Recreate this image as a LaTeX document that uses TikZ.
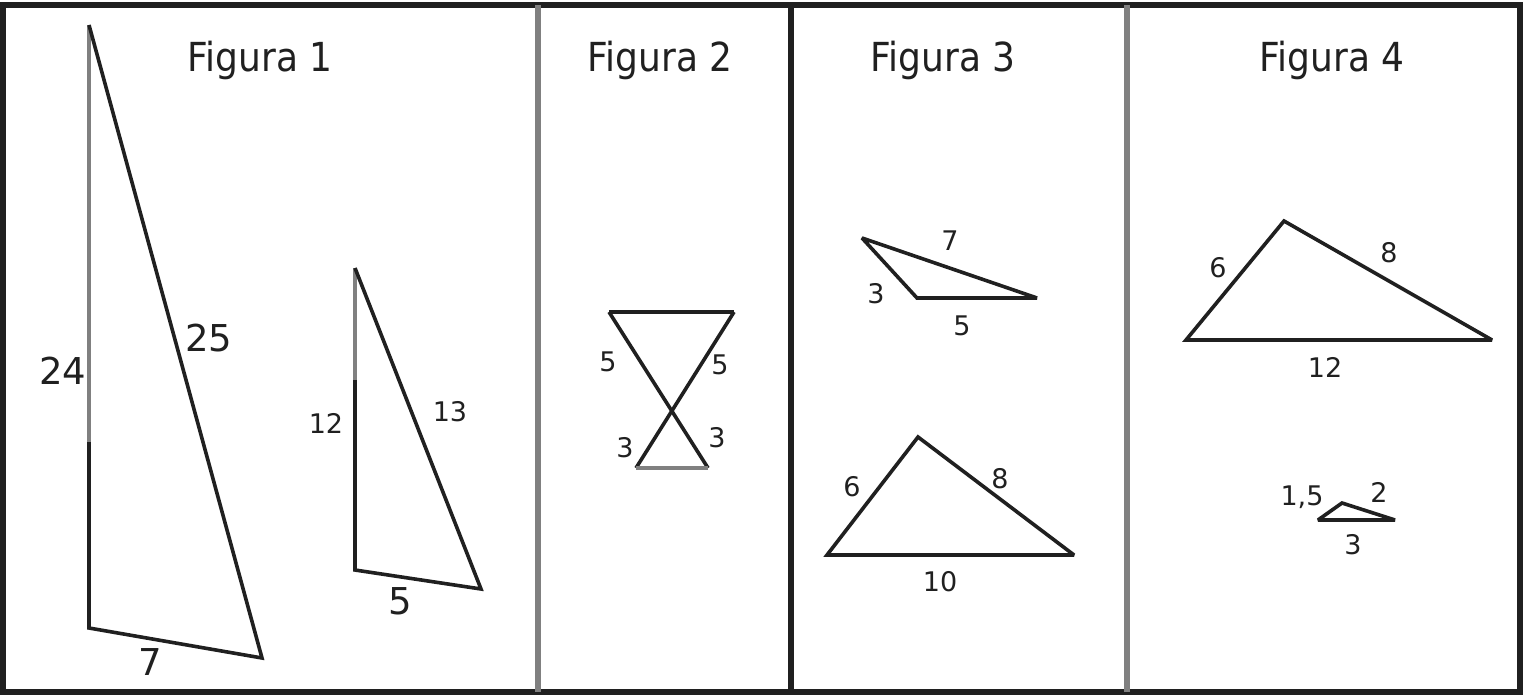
\documentclass[tikz,border=0pt]{standalone}
\usepackage{fontspec}
\setmainfont{DejaVu Sans}
\usepackage{graphicx}
\definecolor{ink}{HTML}{202020}
\definecolor{lgray}{HTML}{808080}
\begin{document}
\begin{tikzpicture}[x=1pt,y=-1pt,
  edge/.style={draw=ink,line width=3.6pt,line join=miter,miter limit=3},
  gedge/.style={draw=lgray,line width=3.6pt},
  title/.style={font=\fontsize{40}{40}\selectfont,text=ink,inner sep=0pt},
  biglab/.style={font=\fontsize{37}{37}\selectfont,text=ink,inner sep=0pt},
  lab/.style={font=\fontsize{27}{27}\selectfont,text=ink,inner sep=0pt}]
\useasboundingbox (0,0) rectangle (1523,695);
\fill[white] (0,0) rectangle (1523,695);
% frame and dividers
\draw[ink,line width=6pt] (3,5) rectangle (1520,692);
\draw[lgray,line width=6pt] (538,5) -- (538,692);
\draw[ink,line width=6pt] (791,5) -- (791,692);
\draw[lgray,line width=6pt] (1127,5) -- (1127,692);
% titles
\node[title] (t1) at (260,60) {\scalebox{0.9}[1]{Figura 1}};
\node[title] (t2) at (660,60) {\scalebox{0.9}[1]{Figura 2}};
\node[title] (t3) at (943,60) {\scalebox{0.9}[1]{Figura 3}};
\node[title] (t4) at (1332,60) {\scalebox{0.9}[1]{Figura 4}};
% Figura 1 big triangle
\coordinate (A1) at (89,25);
\coordinate (A1m) at (89,442);
\coordinate (B1) at (89,628);
\coordinate (C1) at (262,658);
\draw[gedge] (A1) -- (A1m);
\draw[edge] (A1m) -- (B1) -- (C1) -- (A1);
\node[biglab] (l24) at (63,371) {24};
\node[biglab] (l25) at (209,338) {25};
\node[biglab] (l7) at (150,662) {7};
% Figura 1 small triangle
\coordinate (A2) at (355,268);
\coordinate (A2m) at (355,380);
\coordinate (B2) at (355,570);
\coordinate (C2) at (481,589);
\draw[gedge] (A2) -- (A2m);
\draw[edge] (A2m) -- (B2) -- (C2) -- (A2);
\node[lab] (l12) at (326,423) {12};
\node[lab] (l13) at (450,412) {13};
\node[biglab] (l5a) at (400,601) {5};
% Figura 2 hourglass
\coordinate (H1) at (609,312);
\coordinate (H2) at (734,312);
\coordinate (H3) at (636,468);
\coordinate (H4) at (708,468);
\draw[edge] (H1) -- (H2);
\draw[edge] (H1) -- (H4);
\draw[edge] (H2) -- (H3);
\draw[gedge] (H3) -- (H4);
\node[lab] (h5a) at (608,362) {5};
\node[lab] (h5b) at (720,365) {5};
\node[lab] (h3a) at (625,448) {3};
\node[lab] (h3b) at (717,438) {3};
% Figura 3 triangle 1
\coordinate (P1) at (862,238);
\coordinate (P2) at (917,298);
\coordinate (P3) at (1037,298);
\draw[edge] (P1) -- (P2) -- (P3) -- cycle;
\node[lab] (p7) at (950,241) {7};
\node[lab] (p3) at (876,294) {3};
\node[lab] (p5) at (962,326) {5};
% Figura 3 triangle 2
\coordinate (Q1) at (827,555);
\coordinate (Q2) at (918,437);
\coordinate (Q3) at (1074,555);
\draw[edge] (Q1) -- (Q2) -- (Q3) -- cycle;
\node[lab] (q6) at (852,487) {6};
\node[lab] (q8) at (1000,479) {8};
\node[lab] (q10) at (940,582) {10};
% Figura 4 triangle 1
\coordinate (R1) at (1186,340);
\coordinate (R2) at (1284,221);
\coordinate (R3) at (1492,340);
\draw[edge] (R1) -- (R2) -- (R3) -- cycle;
\node[lab] (r6) at (1218,268) {6};
\node[lab] (r8) at (1389,253) {8};
\node[lab] (r12) at (1325,367) {12};
% Figura 4 triangle 2
\coordinate (S1) at (1318,520);
\coordinate (S2) at (1342,503);
\coordinate (S3) at (1395,520);
\draw[edge] (S1) -- (S2) -- (S3) -- cycle;
\node[lab] (s15) at (1302,497) {1,5};
\node[lab] (s2) at (1379,492) {2};
\node[lab] (s3) at (1353,545) {3};
\end{tikzpicture}
\end{document}
